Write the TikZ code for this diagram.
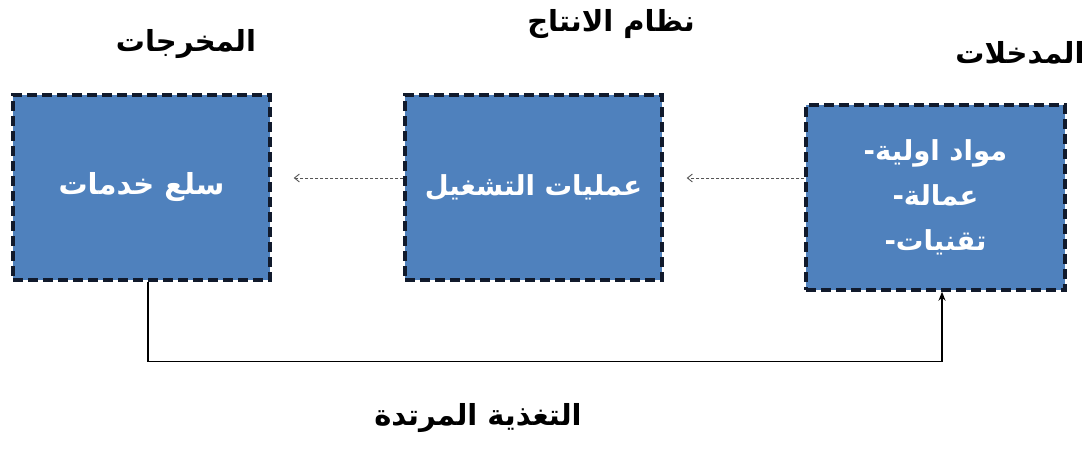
\documentclass[tikz,border=0pt]{standalone}
\usepackage{fontspec}
\newfontfamily\arabicfont[Script=Arabic]{DejaVu Sans}
\TeXXeTstate=1
\usetikzlibrary{arrows.meta}
\definecolor{boxblue}{HTML}{4F81BD}
\definecolor{boxedge}{HTML}{111A2C}
\definecolor{dashgrey}{HTML}{555555}
\begin{document}
\begin{tikzpicture}[x=1pt,y=-1pt,
  box/.style={draw=boxedge, line width=3.4pt, dash pattern=on 10pt off 5pt,
    fill=boxblue, minimum width=257pt, minimum height=185pt, inner sep=0pt,
    text=white, align=center,
    font=\arabicfont\bfseries\fontsize{27.5}{45}\selectfont},
  titletext/.style={font=\arabicfont\bfseries\fontsize{29}{32}\selectfont, text=black},
  dasharrow/.style={draw=dashgrey, line width=0.9pt, dash pattern=on 3pt off 2pt,
    -{Straight Barb[length=5pt,width=8pt]}},
  feedarrow/.style={draw=black, line width=1.4pt, -{Stealth[length=9pt,width=7pt]}}
]
\useasboundingbox (0,0) rectangle (1091,450);
\node[box, font=\arabicfont\bfseries\fontsize{29}{45}\selectfont] (lb) at (141.5,187.5) {\beginR سلع خدمات\endR};
\node[box] (mb) at (533.5,187.5) {\beginR عمليات التشغيل\endR};
\node[box, minimum width=259pt] (rb) at (935.5,197.5)
  {\hbox{-}\beginR مواد اولية\endR\\\hbox{-}\beginR عمالة\endR\\\hbox{-}\beginR تقنيات\endR};
\node[titletext] (lt) at (186,44) {\beginR المخرجات\endR};
\node[titletext] (mt) at (611,24) {\beginR نظام الانتاج\endR};
\node[titletext] (rt) at (1020,53) {\beginR المدخلات\endR};
\node[titletext] (ft) at (478,418) {\beginR التغذية المرتدة\endR};
\draw[dasharrow, shorten >=22pt] (mb.west |- 0,178) -- (lb.east |- 0,178);
\draw[dasharrow, shorten >=23pt] (rb.west |- 0,178) -- (mb.east |- 0,178);
\draw[feedarrow] ([xshift=6.5pt]lb.south) -- ++(0,80) -| ([xshift=6.5pt]rb.south);
\end{tikzpicture}
\end{document}
